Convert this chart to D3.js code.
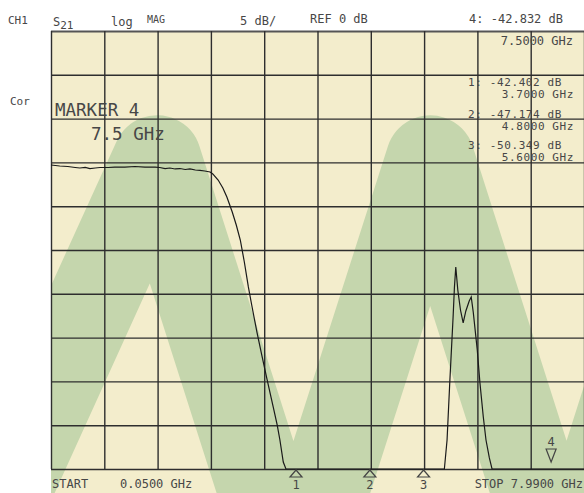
<!DOCTYPE html>
<html>
<head>
<meta charset="utf-8">
<script src="https://cdn.jsdelivr.net/npm/d3@7"></script>
<style>
  body { margin: 0; background: #fff; }
  text { font-family: "DejaVu Sans Mono", monospace; fill: #474747; }
</style>
</head>
<body>
<svg id="chart" width="584" height="493"></svg>
<script>
// sweep settings
var startGHz = 0.05, stopGHz = 7.99;
var refDb = 0, dbPerDiv = 5, divisions = 10;

// S21 trace (GHz, dB)
var traceFreq = [0.05,0.18,0.30,0.41,0.48,0.56,0.63,0.71,0.78,0.90,
                 1.00,1.15,1.30,1.45,1.60,1.67,1.75,1.82,1.90,1.97,
                 2.05,2.12,2.20,2.27,2.34,2.42,2.46,2.54,2.61,2.67,
                 2.75,2.81,2.87,2.93,2.99,3.04,3.12,3.19,3.27,3.36,
                 3.42,3.46,3.51,3.55,3.76,4.50,5.25,5.91,5.95,5.99,
                 6.04,6.06,6.08,6.11,6.15,6.19,6.23,6.28,6.31,6.34,
                 6.40,6.44,6.49,6.53,6.58,6.62,7.99];
var traceDb = [-15.30,-15.41,-15.47,-15.58,-15.64,-15.58,-15.70,-15.64,-15.58,-15.58,
               -15.53,-15.53,-15.47,-15.53,-15.53,-15.58,-15.70,-15.64,-15.75,-15.70,
               -15.81,-15.75,-15.87,-15.92,-15.98,-16.10,-16.32,-17.01,-17.92,-18.95,
               -20.66,-22.15,-23.86,-26.37,-29.22,-31.28,-34.47,-36.99,-39.84,-42.92,
               -44.98,-46.69,-49.20,-50,-50,-50,-50,-50,-46.69,-40.18,
               -32.65,-29.22,-26.94,-29.57,-31.85,-33.33,-31.96,-30.82,-30.37,-32.08,
               -36.42,-40.18,-44.06,-46.69,-48.74,-50,-50];

// markers
var markerNames = ["1", "2", "3", "4"];
var markerFreq = [3.7, 4.8, 5.6, 7.5];
var markerDb = [-42.402, -47.174, -50.349, -42.832];

// background watermark zigzag (GHz, dB)
var wmFreq = [-1.35, 1.63, 3.66, 5.70, 7.73, 9.76];
var wmDb = [-65, -14.7, -63.5, -14.7, -63.5, -14.7];

var plotLeft = 51, plotTop = 31, plotRight = 584, plotBottom = 469, screenBottom = 493;

var svg = d3.select("#chart");

var x = d3.scaleLinear().domain([startGHz, stopGHz]).range([plotLeft, plotRight]);
var y = d3.scaleLinear().domain([refDb, refDb - dbPerDiv * divisions]).range([plotTop, plotBottom]);
var yc = y.copy().clamp(true);

var xTicks = d3.range(divisions + 1).map(function(i) { return startGHz + i * (stopGHz - startGHz) / divisions; });
var yTicks = d3.range(divisions + 1).map(function(i) { return refDb - i * dbPerDiv; });

// screen background
svg.append("defs").append("clipPath").attr("id", "screen")
    .append("rect").attr("x", plotLeft).attr("y", plotTop)
    .attr("width", plotRight - plotLeft).attr("height", screenBottom - plotTop);

svg.append("rect")
    .attr("x", plotLeft).attr("y", plotTop)
    .attr("width", plotRight - plotLeft).attr("height", screenBottom - plotTop)
    .attr("fill", "#f3edcc");

var wmLine = d3.line()
    .x(function(d) { return x(d[0]); })
    .y(function(d) { return y(d[1]); });

svg.append("path")
    .attr("clip-path", "url(#screen)")
    .attr("d", wmLine(d3.zip(wmFreq, wmDb)))
    .attr("fill", "none")
    .attr("stroke", "#c5d6ad")
    .attr("stroke-width", 89)
    .attr("stroke-linejoin", "round");

// grid
var gy = svg.append("g")
    .attr("transform", "translate(" + plotLeft + ",0)")
    .call(d3.axisLeft(y).tickValues(yTicks).tickSize(-(plotRight - plotLeft)).tickFormat(""));
var gx = svg.append("g")
    .attr("transform", "translate(0," + plotBottom + ")")
    .call(d3.axisBottom(x).tickValues(xTicks).tickSize(-(plotBottom - plotTop)).tickFormat(""));
[gx, gy].forEach(function(g) {
    g.select(".domain").remove();
    g.selectAll("line").attr("stroke", "#2e2e2e").attr("stroke-width", 1.4);
});
gy.select(".tick line").attr("stroke", "#555").attr("stroke-width", 2);

// trace
var traceLine = d3.line()
    .x(function(d) { return x(d[0]); })
    .y(function(d) { return yc(d[1]); });

svg.append("path")
    .attr("d", traceLine(d3.zip(traceFreq, traceDb)))
    .attr("fill", "none")
    .attr("stroke", "#1a1a1a")
    .attr("stroke-width", 1.2);

// marker symbols
markerFreq.forEach(function(f, i) {
    var cx = x(f);
    var g = svg.append("g");
    if (i < 3) {
        g.append("path")
            .attr("d", "M" + cx + "," + (plotBottom + 1) + "l6,7h-12z")
            .attr("fill", "none").attr("stroke", "#444").attr("stroke-width", 1.2);
        g.append("text").attr("x", cx).attr("y", plotBottom + 20)
            .attr("text-anchor", "middle").attr("font-size", 12).text(markerNames[i]);
    } else {
        g.append("path")
            .attr("d", "M" + cx + "," + (plotBottom - 7) + "l-5,-13h10z")
            .attr("fill", "none").attr("stroke", "#444").attr("stroke-width", 1.2);
        g.append("text").attr("x", cx).attr("y", plotBottom - 23)
            .attr("text-anchor", "middle").attr("font-size", 12).text(markerNames[i]);
    }
});

// header annotations
function label(tx, ty, s, size, anchor) {
    return svg.append("text").attr("x", tx).attr("y", ty)
        .attr("font-size", size).attr("text-anchor", anchor || "start").text(s);
}
label(8, 24, "CH1", 11);
var s21 = label(53, 26, "S", 12);
s21.append("tspan").attr("dy", 3).attr("font-size", 11).text("21");
label(111, 26, "log", 12);
label(147, 23, "MAG", 10);
label(240, 25, "5 dB/", 12);
label(310, 23, "REF 0 dB", 12);
label(563, 23, "4: " + markerDb[3].toFixed(3) + " dB", 12, "end");
label(573, 45, markerFreq[3].toFixed(4) + " GHz", 12, "end");
label(10, 105, "Cor", 11);

label(55, 116, "MARKER 4", 17.5);
label(91, 140, "7.5 GHz", 17.5);

// marker readouts
[0, 1, 2].forEach(function(i) {
    var by = 86 + i * 31.5;
    label(562, by, markerNames[i] + ": " + markerDb[i].toFixed(3) + " dB", 11, "end")
        .attr("letter-spacing", 0.6);
    label(574, by + 12, markerFreq[i].toFixed(4) + " GHz", 11, "end")
        .attr("letter-spacing", 0.6);
});

// footer
label(52, 488, "START", 12);
label(120, 488, startGHz.toFixed(4) + " GHz", 12);
label(583, 488, "STOP " + stopGHz.toFixed(4) + " GHz", 12, "end");
</script>
</body>
</html>
